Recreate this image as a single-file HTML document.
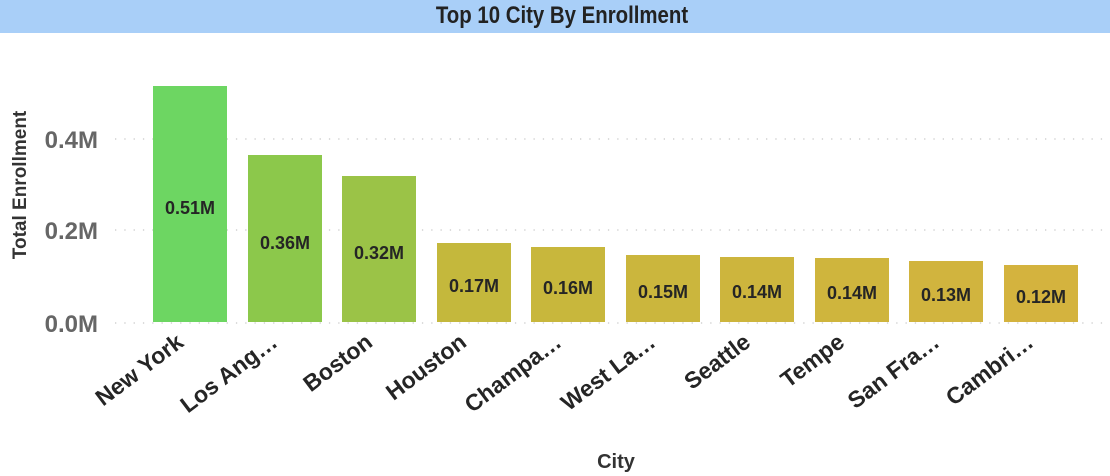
<!DOCTYPE html>
<html><head><meta charset="utf-8"><style>
html,body{margin:0;padding:0;background:#fff;width:1110px;height:476px;overflow:hidden}
svg{display:block}
text{font-family:"Liberation Sans","DejaVu Sans",sans-serif;font-weight:bold}
</style></head><body>
<svg width="1110" height="476" viewBox="0 0 1110 476">
<rect x="0" y="0" width="1110" height="33" fill="#a9cff8"/>
<text x="562" y="23" text-anchor="middle" font-size="24" fill="#222" transform="translate(562 0) scale(0.85 1) translate(-562 0)">Top 10 City By Enrollment</text>
<g stroke="#c8c8c8" stroke-width="1.3" stroke-dasharray="1.3 8">
<line x1="115" y1="139" x2="1110" y2="139"/>
<line x1="115" y1="230" x2="1110" y2="230"/>
<line x1="115" y1="323" x2="1110" y2="323"/>
</g>
<g font-size="24" fill="#666" text-anchor="end">
<text x="98" y="148">0.4M</text>
<text x="98" y="239">0.2M</text>
<text x="98" y="332">0.0M</text>
</g>
<text transform="translate(26 185) rotate(-90)" text-anchor="middle" font-size="19" fill="#333">Total Enrollment</text>
<g>
<rect x="153" y="86" width="74" height="236" fill="#6dd662"/>
<rect x="248" y="155" width="74" height="167" fill="#8cc84b"/>
<rect x="342" y="176" width="74" height="146" fill="#9bc347"/>
<rect x="437" y="243" width="74" height="79" fill="#c4b83c"/>
<rect x="531" y="247" width="74" height="75" fill="#c8b73c"/>
<rect x="626" y="255" width="74" height="67" fill="#cbb63d"/>
<rect x="720" y="257" width="74" height="65" fill="#cdb53d"/>
<rect x="815" y="258" width="74" height="64" fill="#cfb53d"/>
<rect x="909" y="261" width="74" height="61" fill="#d1b43e"/>
<rect x="1004" y="265" width="74" height="57" fill="#d4b33e"/>
</g>
<g font-size="18" fill="#252525" text-anchor="middle">
<text x="190" y="214">0.51M</text>
<text x="285" y="249">0.36M</text>
<text x="379" y="259">0.32M</text>
<text x="474" y="292">0.17M</text>
<text x="568" y="294">0.16M</text>
<text x="663" y="298">0.15M</text>
<text x="757" y="298">0.14M</text>
<text x="852" y="299">0.14M</text>
<text x="946" y="301">0.13M</text>
<text x="1041" y="303">0.12M</text>
</g>
<g font-size="23" fill="#252525" text-anchor="end">
<text transform="translate(185 345) rotate(-37)">New York</text>
<text transform="translate(279 345) rotate(-37)">Los Ang…</text>
<text transform="translate(374 345) rotate(-37)">Boston</text>
<text transform="translate(468 345) rotate(-37)">Houston</text>
<text transform="translate(563 345) rotate(-37)">Champa…</text>
<text transform="translate(657 345) rotate(-37)">West La…</text>
<text transform="translate(752 345) rotate(-37)">Seattle</text>
<text transform="translate(846 345) rotate(-37)">Tempe</text>
<text transform="translate(941 345) rotate(-37)">San Fra…</text>
<text transform="translate(1035 345) rotate(-37)">Cambri…</text>
</g>
<text x="616" y="468" text-anchor="middle" font-size="20" fill="#333">City</text>
</svg>
</body></html>
